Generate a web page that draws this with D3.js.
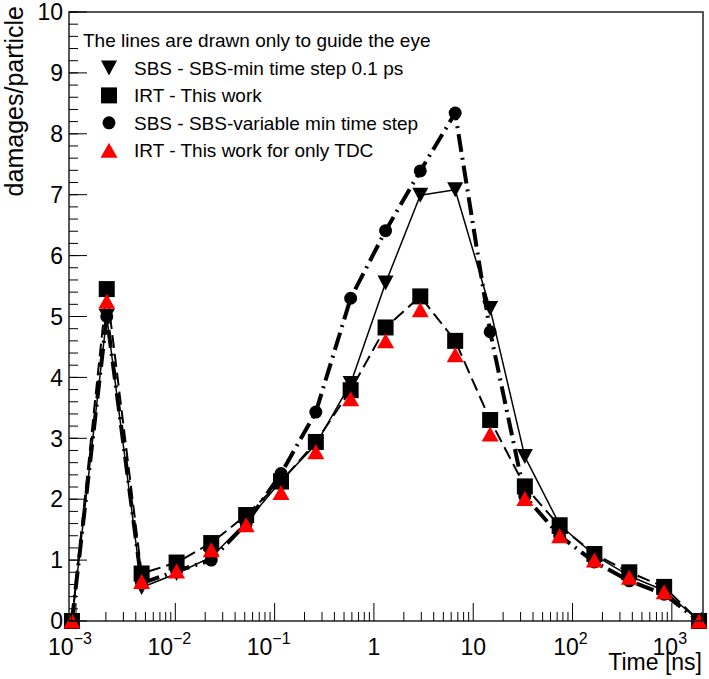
<!DOCTYPE html>
<html><head><meta charset="utf-8">
<script src="https://cdn.jsdelivr.net/npm/d3@7"></script>
<style>body{margin:0;background:#fff}svg{display:block}text{font-family:"Liberation Sans",Arial,sans-serif;fill:#000}</style>
</head><body><svg id="c" width="709" height="679"></svg>
<script>
const times = [0.00091,0.00204,0.00458,0.0103,0.0230,0.0517,0.116,0.260,0.583,1.31,2.93,6.58,14.8,33.1,74.2,166,373,837,1880];
const sbsMin  = [0,5.0,0.55,0.78,1.05,1.62,2.30,2.90,3.90,5.55,6.99,7.08,5.13,2.70,1.58,1.08,0.74,0.50,0];
const irt     = [0,5.45,0.78,0.96,1.28,1.74,2.29,2.94,3.79,4.82,5.33,4.60,3.30,2.21,1.56,1.10,0.80,0.56,0];
const sbsVar  = [0,5.0,0.62,0.82,1.0,1.60,2.42,3.43,5.30,6.41,7.39,8.34,4.75,2.05,1.40,0.97,0.66,0.44,0];
const irtTdc  = [0,5.25,0.65,0.82,1.17,1.58,2.11,2.78,3.65,4.60,5.11,4.37,3.07,2.01,1.40,1.00,0.72,0.48,0];
const legendTitle = "The lines are drawn only to guide the eye";
const legendLabels = ["SBS - SBS-min time step 0.1 ps","IRT - This work","SBS - SBS-variable min time step","IRT - This work for only TDC"];
const xMajor = [-3,-2,-1,0,1,2,3];
const yTicks = [0,1,2,3,4,5,6,7,8,9,10];

const svg = d3.select("#c");
const L=69,R=703,T=12,B=621;
const x = d3.scaleLog().domain([8.5e-4,2060]).range([L,R]);
const y = d3.scaleLinear().domain([0,10]).range([B,T]);

function tri(w,h,down){return (cx,cy)=>down?`M${cx-w/2},${cy-h/2}L${cx+w/2},${cy-h/2}L${cx},${cy+h/2}Z`:`M${cx-w/2},${cy+h/2}L${cx+w/2},${cy+h/2}L${cx},${cy-h/2}Z`;}
const mk = {
  down: tri(16,15,true),
  square:(cx,cy)=>`M${cx-8},${cy-8}h16v16h-16Z`,
  circle:(cx,cy)=>`M${cx-6.5},${cy}a6.5,6.5 0 1,0 13,0a6.5,6.5 0 1,0 -13,0Z`,
  up: tri(17,15,false)
};
const series = [
  {vals:sbsVar, m:"circle", color:"#000", dash:"18,6,2,6", w:4, line:true},
  {vals:sbsMin, m:"down", color:"#000", dash:null, w:1.5, line:true},
  {vals:irt, m:"square", color:"#000", dash:"13,6", w:2, line:true},
  {vals:irtTdc, m:"up", color:"#f00", dash:null, w:1, line:false}
];
const lineGen = d3.line().x(d=>x(d[0])).y(d=>y(d[1]));
const gData = svg.append("g");
series.forEach(s=>{
  const pts = times.map((t,i)=>[t,s.vals[i]]);
  if(s.line){
    gData.append("path").attr("d",lineGen(pts)).attr("fill","none").attr("stroke",s.color)
      .attr("stroke-width",s.w).attr("stroke-dasharray",s.dash).attr("stroke-linejoin","round");
  }
  gData.selectAll(null).data(pts).enter().append("path").attr("d",d=>mk[s.m](x(d[0]),y(d[1]))).attr("fill",s.color);
});

svg.append("rect").attr("x",L).attr("y",T).attr("width",R-L).attr("height",B-T).attr("fill","none").attr("stroke","#222").attr("stroke-width",1.5);

const gx = svg.append("g");
const minors=[];
for(let e=-4;e<=3;e++){for(let k=2;k<=9;k++){const v=k*Math.pow(10,e); if(v>x.domain()[0]&&v<x.domain()[1]) minors.push(v);}}
gx.selectAll(null).data(minors).enter().append("line").attr("x1",d=>x(d)).attr("x2",d=>x(d)).attr("y1",B).attr("y2",B-9).attr("stroke","#000");
gx.selectAll(null).data(xMajor).enter().append("line").attr("x1",d=>x(Math.pow(10,d))).attr("x2",d=>x(Math.pow(10,d))).attr("y1",B).attr("y2",B-18).attr("stroke","#000");
xMajor.forEach(e=>{
  const cx = x(Math.pow(10,e));
  const t = gx.append("text").attr("y",655).attr("font-size",23);
  if(e===0){t.attr("x",cx).attr("text-anchor","middle").text("1");}
  else if(e===1){t.attr("x",cx).attr("text-anchor","middle").text("10");}
  else{
    t.attr("x",cx-(e<0?6:2)).attr("text-anchor","middle");
    t.append("tspan").text("10");
    t.append("tspan").attr("dy",-11).attr("font-size",16).text(e<0?"\u2212"+(-e):String(e));
  }
});
svg.append("text").attr("x",702).attr("y",670).attr("text-anchor","end").attr("font-size",23).text("Time [ns]");

const gy = svg.append("g");
const yMin = d3.range(0,10.01,0.2);
gy.selectAll(null).data(yMin).enter().append("line").attr("x1",L).attr("x2",L+9).attr("y1",d=>y(d)).attr("y2",d=>y(d)).attr("stroke","#000");
gy.selectAll(null).data(yTicks).enter().append("line").attr("x1",L).attr("x2",L+18).attr("y1",d=>y(d)).attr("y2",d=>y(d)).attr("stroke","#000");
gy.selectAll(null).data(yTicks).enter().append("text").attr("x",L-6).attr("y",d=>y(d)).attr("dy","0.36em").attr("text-anchor","end").attr("font-size",23).text(d=>d);
svg.append("text").attr("transform","translate(23,6) rotate(-90)").attr("text-anchor","end").attr("font-size",25).text("damages/particle");

const lg = svg.append("g");
lg.append("text").attr("x",83).attr("y",47).attr("font-size",19).text(legendTitle);
const lm = ["down","square","circle","up"], lc=["#000","#000","#000","#f00"];
legendLabels.forEach((lab,i)=>{
  const cy = 68+i*27.4;
  lg.append("path").attr("d",mk[lm[i]](109,cy)).attr("fill",lc[i]);
  lg.append("text").attr("x",134).attr("y",cy+7).attr("font-size",19).text(lab);
});
</script></body></html>
